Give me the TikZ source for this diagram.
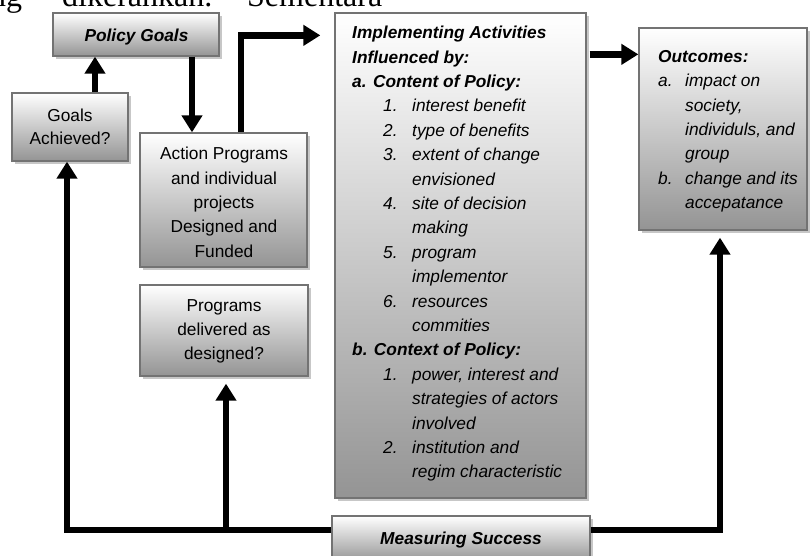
\documentclass[tikz,border=0pt]{standalone}
\usepackage{fontspec}
\setmainfont{Liberation Sans}
\newfontfamily\topserif{Liberation Serif}
\usetikzlibrary{arrows.meta,shadows}
\newcommand{\ImpItem}[2]{\mbox{\hspace*{31pt}\makebox[29pt][l]{#1}#2}}
\newcommand{\ImpCont}[1]{\mbox{\hspace*{60pt}#1}}
\newcommand{\OutItem}[2]{\mbox{\makebox[27pt][l]{#1}#2}}
\newcommand{\OutCont}[1]{\mbox{\hspace*{27pt}#1}}
\begin{document}
\begin{tikzpicture}[x=1pt,y=-1pt,
  box/.style={draw=black!55, line width=1.3pt, top color=white, bottom color=black!42,
    inner sep=0pt, drop shadow={shadow xshift=3pt, shadow yshift=-3pt, fill=black!22, opacity=1}},
  arr/.style={line width=6.5pt, line join=miter, -{Triangle[width=20pt,length=17pt]}},
  txt/.style={inner sep=0pt, font=\fontsize{17.3}{24.4}\selectfont},
  bi/.style={inner sep=0pt, font=\fontsize{17.3}{24.4}\selectfont\bfseries\itshape},
  it/.style={inner sep=0pt, font=\fontsize{17.3}{24.4}\selectfont\itshape},
  topt/.style={anchor=base west, inner sep=0pt, font=\topserif\fontsize{32}{36}\selectfont}]
\useasboundingbox (0,0) rectangle (811,555);
\clip (0,0) rectangle (811,555);
\fill[white] (0,0) rectangle (811,555);

% cut-off text line at the top
\node[topt] (t1) at (-10,6.5) {ng};
\node[topt] (t2) at (62,6.5) {dikerahkan.};
\node[topt] (t3) at (247,6.5) {Sementara};

% boxes
\node[box, minimum width=166pt, minimum height=43pt] (pg) at (136,34.5) {};
\node[box, minimum width=116pt, minimum height=68pt] (ga) at (70,127) {};
\node[box, minimum width=167pt, minimum height=134pt] (ap) at (223.5,200) {};
\node[box, minimum width=168pt, minimum height=91pt] (pd) at (224,330.5) {};
\node[box, minimum width=251pt, minimum height=485pt] (ia) at (460.5,255.5) {};
\node[box, minimum width=168pt, minimum height=202pt] (oc) at (723,129) {};
\node[box, minimum width=258pt, minimum height=46pt] (ms) at (461,539) {};

% texts
\node[bi, anchor=base] (pgt) at (136.5,41) {Policy Goals};
\node[txt, align=center, anchor=north, font=\fontsize{17.3}{23}\selectfont] (gat) at (70,109) {Goals\\Achieved?};
\begin{scope}
  \clip (ap.north west) rectangle ([yshift=10pt]ap.south east);
  \node[txt, align=center, anchor=north] (apt) at (224,147) {Action Programs\\and individual\\projects\\Designed and\\Funded};
\end{scope}
\node[txt, align=center, anchor=north] (pdt) at (224,299) {Programs\\delivered as\\designed?};
\node[it, align=left, anchor=north west] (iat) at (352,26) {%
\textbf{Implementing Activities}\\
\textbf{Influenced by:}\\
\textbf{a. Content of Policy:}\\
\ImpItem{1.}{interest benefit}\\
\ImpItem{2.}{type of benefits}\\
\ImpItem{3.}{extent of change}\\
\ImpCont{envisioned}\\
\ImpItem{4.}{site of decision}\\
\ImpCont{making}\\
\ImpItem{5.}{program}\\
\ImpCont{implementor}\\
\ImpItem{6.}{resources}\\
\ImpCont{commities}\\
\textbf{b. Context of Policy:}\\
\ImpItem{1.}{power, interest and}\\
\ImpCont{strategies of actors}\\
\ImpCont{involved}\\
\ImpItem{2.}{institution and}\\
\ImpCont{regim characteristic}};
\node[it, align=left, anchor=north west] (oct) at (658,50) {%
\textbf{Outcomes:}\\
\OutItem{a.}{impact on}\\
\OutCont{society,}\\
\OutCont{individuls, and}\\
\OutCont{group}\\
\OutItem{b.}{change and its}\\
\OutCont{accepatance}};
\node[bi, anchor=base] (mst) at (461,544) {Measuring Success};

% connectors
\coordinate (msl) at ([yshift=-14.5pt]ms.north west);
\coordinate (msr) at ([yshift=-14.5pt]ms.north east);
\draw[arr] ([xshift=25pt]ga.north) -- ([xshift=25pt]ga.north |- pg.south);
\draw[arr] ([xshift=56pt]pg.south) -- ([xshift=56pt]pg.south |- ap.north);
\draw[arr] ([xshift=17.5pt]ap.north) |- ([xshift=-14pt,yshift=-23pt]ia.north west);
\draw[arr] ([xshift=3pt,yshift=-42pt]ia.north east) -- ([yshift=-27pt]oc.north west);
\draw[arr] (msl) -| ([xshift=-3pt]ga.south);
\draw[arr] ([xshift=2pt]pd.south |- msl) -- ([xshift=2pt,yshift=-7pt]pd.south);
\draw[arr] (msr) -| ([xshift=-3pt,yshift=-7pt]oc.south);
\end{tikzpicture}
\end{document}
